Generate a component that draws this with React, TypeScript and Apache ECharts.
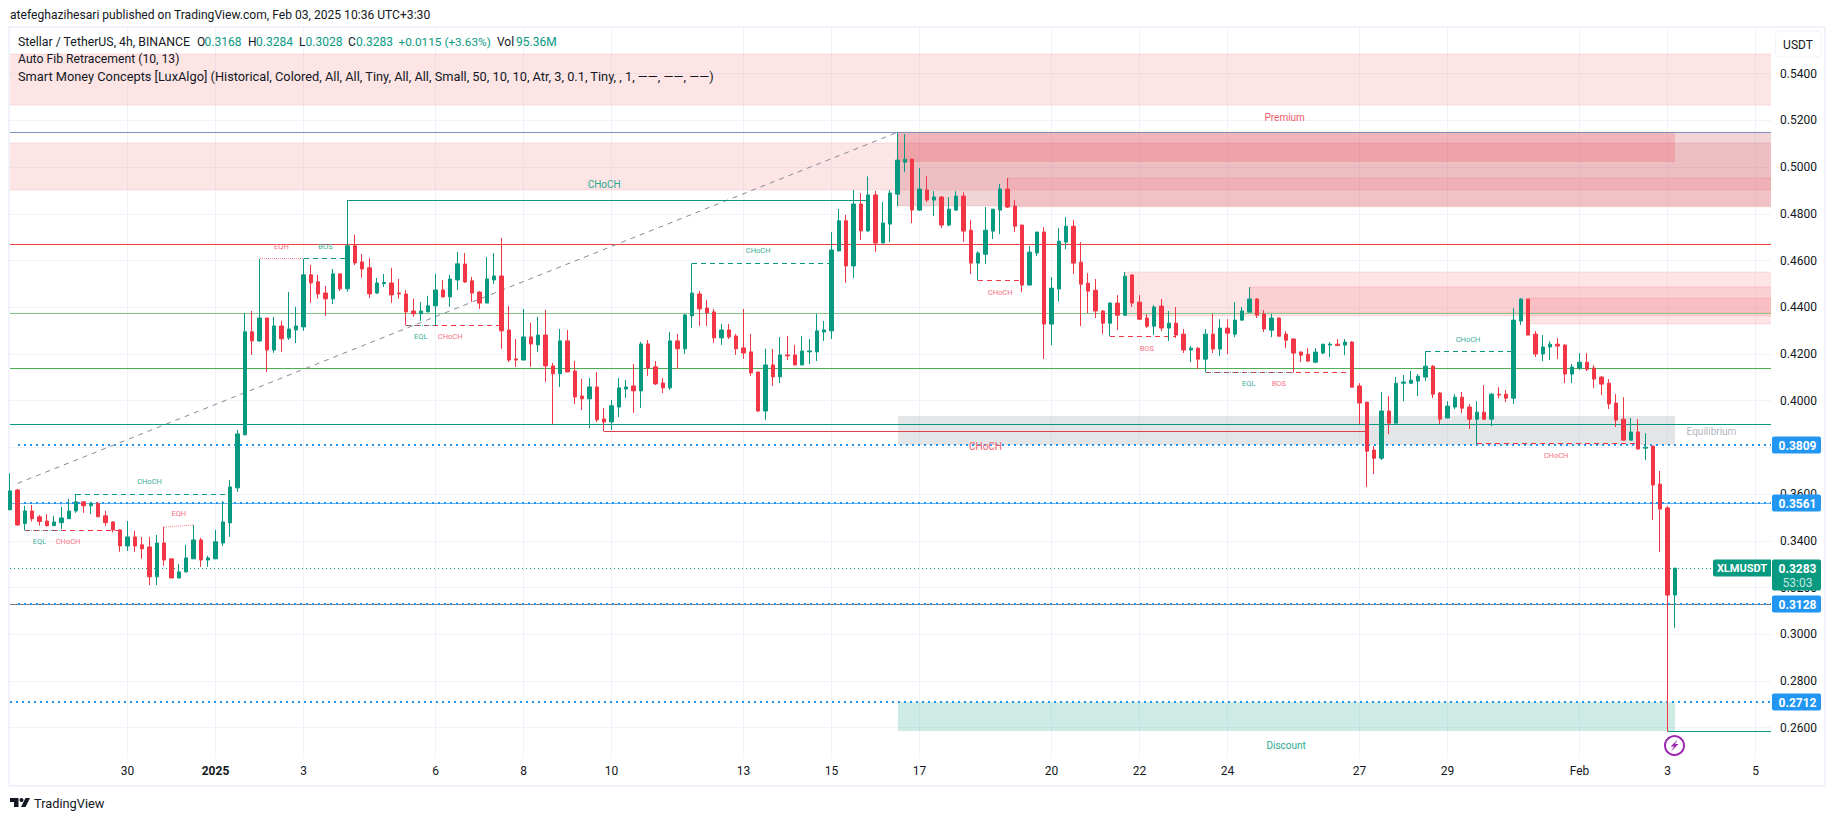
import React, { useEffect, useRef } from "react";
import * as echarts from "echarts";

// Candles: [open, high, low, close], one every 4 hours; the index counts candles from the left edge.
const candlesDecember = [
  [.3533,.3689,.3533,.3614],[.3618,.3622,.3465,.3468],[.3474,.3550,.3445,.3528],[.3528,.3554,.3483,.3495],
  [.3503,.3511,.3465,.3483],[.3485,.3515,.3461,.3465],[.3465,.3507,.3465,.3481],[.3478,.3545,.3450,.3498],
  [.3495,.3580,.3495,.3528],[.3528,.3601,.3520,.3567],[.3567,.3567,.3520,.3550],[.3550,.3567,.3515,.3560],
  [.3560,.3567,.3503,.3503],[.3507,.3528,.3465,.3478],[.3481,.3485,.3436,.3447],[.3447,.3447,.3353,.3378],
  [.3378,.3485,.3357,.3417],[.3417,.3443,.3353,.3378],[.3383,.3417,.3323,.3366],[.3374,.3417,.3211,.3246],
  [.3246,.3425,.3211,.3391],[.3391,.3460,.3293,.3318],[.3323,.3323,.3241,.3241],[.3241,.3301,.3241,.3267],
  [.3267,.3383,.3267,.3327],[.3323,.3468,.3323,.3404],[.3404,.3413,.3289,.3318],[.3318,.3336,.3289,.3327],
];
const candlesEarlyJanuary = [
  [.3323,.3447,.3323,.3396],[.3391,.3571,.3378,.3481],[.3477,.3661,.3417,.3631],[.3627,.3875,.3610,.3858],
  [.3854,.4376,.3854,.4295],[.4295,.4384,.4196,.4256],[.4256,.4607,.4252,.4354],[.4354,.4354,.4123,.4217],
  [.4217,.4359,.4205,.4320],[.4320,.4342,.4209,.4265],[.4269,.4466,.4260,.4307],[.4303,.4402,.4247,.4320],
  [.4316,.4607,.4299,.4539],[.4539,.4581,.4419,.4504],[.4509,.4539,.4436,.4457],[.4461,.4491,.4363,.4436],
  [.4436,.4564,.4414,.4543],[.4543,.4543,.4470,.4479],[.4479,.4859,.4466,.4663],[.4663,.4710,.4581,.4590],
  [.4594,.4628,.4526,.4564],[.4569,.4611,.4440,.4457],[.4461,.4526,.4457,.4504],[.4501,.4543,.4487,.4506],
  [.4504,.4569,.4419,.4453],[.4461,.4521,.4436,.4457],[.4457,.4474,.4323,.4380],[.4384,.4436,.4359,.4372],
  [.4372,.4423,.4342,.4384],[.4380,.4449,.4380,.4406],[.4406,.4543,.4323,.4474],[.4474,.4517,.4444,.4444],
  [.4444,.4539,.4402,.4521],[.4517,.4637,.4474,.4586],[.4585,.4632,.4504,.4508],[.4513,.4530,.4423,.4461],
  [.4465,.4470,.4393,.4418],[.4418,.4615,.4418,.4521],[.4517,.4632,.4500,.4534],[.4534,.4697,.4222,.4299],
];
const candlesMidJanuary = [
  [.4303,.4406,.4166,.4174],[.4179,.4264,.4145,.4174],[.4174,.4393,.4174,.4273],[.4273,.4333,.4145,.4243],
  [.4239,.4359,.4209,.4281],[.4281,.4389,.4080,.4149],[.4149,.4162,.3899,.4115],[.4115,.4307,.4059,.4256],
  [.4256,.4303,.4123,.4123],[.4127,.4170,.3986,.4016],[.4020,.4093,.3960,.4008],[.4008,.4097,.3883,.4059],
  [.4059,.4123,.3909,.3918],[.3922,.3969,.3869,.3909],[.3909,.4003,.3875,.3978],[.3973,.4097,.3930,.4055],
  [.4050,.4089,.4012,.4059],[.4063,.4157,.3948,.4042],[.4042,.4252,.3969,.4243],[.4243,.4260,.4106,.4140],
  [.4145,.4170,.4067,.4072],[.4076,.4097,.4033,.4055],[.4055,.4294,.4046,.4256],[.4256,.4286,.4136,.4222],
  [.4222,.4371,.4200,.4367],[.4363,.4588,.4311,.4461],[.4457,.4470,.4320,.4393],[.4397,.4431,.4320,.4376],
  [.4380,.4393,.4247,.4269],[.4269,.4329,.4239,.4303],[.4303,.4329,.4264,.4273],[.4277,.4286,.4196,.4222],
  [.4226,.4393,.4179,.4204],[.4209,.4286,.4106,.4119],[.4123,.4123,.3952,.3956],[.3956,.4222,.3918,.4153],
  [.4153,.4222,.4063,.4102],[.4102,.4273,.4076,.4196],[.4196,.4277,.4174,.4192],[.4196,.4239,.4153,.4153],
  [.4153,.4277,.4153,.4213],[.4209,.4264,.4157,.4213],[.4209,.4371,.4170,.4299],[.4294,.4341,.4256,.4303],
];
const candlesPeak = [
  [.4299,.4722,.4264,.4645],[.4641,.4821,.4641,.4770],[.4770,.4795,.4504,.4577],[.4577,.4902,.4525,.4842],
  [.4842,.4889,.4688,.4727],[.4727,.4960,.4722,.4881],[.4881,.4898,.4637,.4675],[.4675,.4851,.4675,.4761],
  [.4756,.4902,.4679,.4889],[.4884,.5148,.4833,.5030],[.5021,.5141,.4979,.5034],[.5034,.5034,.4760,.4816],
  [.4816,.4996,.4812,.4906],[.4902,.4961,.4850,.4859],[.4859,.4897,.4790,.4872],[.4872,.4876,.4739,.4752],
  [.4752,.4872,.4747,.4820],[.4816,.4897,.4812,.4876],[.4876,.4893,.4679,.4726],[.4730,.4773,.4542,.4589],
  [.4589,.4640,.4515,.4632],[.4627,.4829,.4585,.4730],[.4726,.4820,.4692,.4820],[.4816,.4927,.4713,.4906],
  [.4906,.4953,.4825,.4829],[.4833,.4859,.4722,.4747],[.4752,.4752,.4465,.4495],[.4495,.4662,.4495,.4636],
  [.4632,.4722,.4619,.4722],[.4722,.4743,.4178,.4328],[.4328,.4529,.4238,.4482],[.4478,.4739,.4426,.4683],
  [.4679,.4786,.4649,.4747],[.4747,.4773,.4542,.4589],[.4593,.4679,.4319,.4499],
];
const candlesLateJanuary = [
  [.4503,.4546,.4375,.4469],[.4473,.4521,.4354,.4384],[.4384,.4388,.4285,.4332],[.4332,.4422,.4276,.4418],
  [.4418,.4452,.4302,.4366],[.4366,.4551,.4362,.4533],[.4538,.4542,.4401,.4418],[.4422,.4452,.4345,.4349],
  [.4354,.4371,.4311,.4319],[.4319,.4409,.4281,.4401],[.4405,.4435,.4298,.4311],[.4311,.4384,.4255,.4332],
  [.4332,.4401,.4268,.4281],[.4285,.4307,.4204,.4217],[.4217,.4234,.4165,.4225],[.4225,.4229,.4135,.4178],
  [.4178,.4307,.4121,.4285],[.4285,.4371,.4204,.4221],[.4221,.4349,.4191,.4311],[.4311,.4349,.4199,.4289],
  [.4285,.4422,.4272,.4345],[.4345,.4401,.4341,.4384],[.4379,.4486,.4379,.4435],[.4435,.4439,.4354,.4366],
  [.4371,.4388,.4294,.4307],[.4302,.4371,.4272,.4354],[.4354,.4358,.4276,.4276],[.4285,.4298,.4225,.4259],
  [.4264,.4268,.4121,.4204],[.4208,.4212,.4165,.4195],[.4199,.4225,.4165,.4170],[.4165,.4225,.4161,.4208],
  [.4204,.4242,.4199,.4242],[.4238,.4251,.4187,.4242],[.4242,.4264,.4234,.4236],[.4238,.4264,.4195,.4251],
  [.4251,.4255,.4058,.4058],[.4063,.4075,.3900,.3990],[.3994,.3994,.3630,.3784],[.3789,.3806,.3686,.3754],
  [.3754,.4037,.3746,.3956],[.3956,.4020,.3857,.3904],[.3904,.4101,.3904,.4075],[.4075,.4110,.3998,.4080],
  [.4075,.4127,.4071,.4088],[.4084,.4114,.4020,.4105],[.4101,.4212,.4084,.4148],[.4148,.4152,.4011,.4028],
];
const candlesFebruary = [
  [.4033,.4037,.3900,.3921],[.3926,.3998,.3926,.3977],[.3973,.4028,.3964,.4015],[.4015,.4037,.3947,.3968],
  [.3973,.3986,.3879,.3921],[.3921,.3998,.3814,.3951],[.3951,.4067,.3917,.3921],[.3921,.4033,.3891,.4028],
  [.4028,.4058,.4011,.4024],[.4028,.4046,.3994,.4011],[.4011,.4396,.3986,.4345],[.4341,.4439,.4324,.4435],
  [.4435,.4435,.4281,.4281],[.4285,.4298,.4187,.4200],[.4200,.4281,.4170,.4230],[.4230,.4255,.4174,.4242],
  [.4242,.4268,.4178,.4234],[.4238,.4242,.4075,.4114],[.4114,.4157,.4075,.4144],[.4140,.4204,.4131,.4165],
  [.4165,.4204,.4127,.4135],[.4140,.4152,.4054,.4093],[.4101,.4105,.4024,.4071],[.4075,.4093,.3964,.3986],
  [.3990,.4028,.3887,.3917],[.3921,.4015,.3831,.3831],[.3831,.3926,.3831,.3866],[.3866,.3921,.3793,.3793],
  [.3797,.3861,.3746,.3801],[.3806,.3806,.3489,.3639],[.3643,.3699,.3352,.3536],[.3541,.3549,.2583,.3168],
  [.3168,.3284,.3028,.3283],
];
const candles = [
  ...candlesDecember, ...candlesEarlyJanuary, ...candlesMidJanuary,
  ...candlesPeak, ...candlesLateJanuary, ...candlesFebruary,
];

// Axis scale
const priceTicks = [.26,.28,.30,.32,.34,.36,.38,.40,.42,.44,.46,.48,.50,.52,.54];
const timeTickCandles = [16,28,40,58,70,82,100,112,124,142,154,166,184,196,214,226,238];
const timeTickLabels = ["30","2025","3","6","8","10","13","15","17","20","22","24","27","29","Feb","3","5"];

// Shaded zones: [from candle, to candle, top price, bottom price, tone]
const zoneEnd = 250;
const zones: [number, number, number, number, string][] = [
  [-5, zoneEnd, .5483, .5265, "soft"],
  [-5, zoneEnd, .5102, .4904, "soft"],
  [121, zoneEnd, .5149, .4835, "deep"],
  [121, 227, .5149, .5022, "red"],
  [136, zoneEnd, .4953, .4828, "soft"],
  [152, zoneEnd, .4550, .4364, "soft"],
  [169, zoneEnd, .4485, .4375, "soft"],
  [207, zoneEnd, .4440, .4327, "soft"],
  [121, 227, .3934, .3810, "grey"],
  [121, 227, .2712, .2587, "teal"],
];

// Lines: [from candle, to candle, start price, end price, style]
const levelLines: [number, number, number, number, string][] = [
  [-5, zoneEnd, .5149, .5149, "fibTop"],
  [-5, zoneEnd, .4670, .4670, "fibRed"],
  [-5, zoneEnd, .4374, .4374, "fibLime"],
  [-5, zoneEnd, .4139, .4139, "fibGreen"],
  [-5, zoneEnd, .3899, .3899, "fibTeal"],
  [-5, zoneEnd, .3561, .3561, "fibBlue"],
  [-5, zoneEnd, .3128, .3128, "fibGrey"],
  [1, zoneEnd, .3809, .3809, "dotBlue"],
  [1, zoneEnd, .3561, .3561, "dotBlue"],
  [1, zoneEnd, .3128, .3128, "dotBlue"],
  [-5, zoneEnd, .2712, .2712, "dotBlue"],
  [-5, zoneEnd, .3283, .3283, "lastPrice"],
  [1, 121, .3646, .5149, "trend"],
];
const structureLines: [number, number, number, number, string][] = [
  [46, 117, .4859, .4859, "tealSolid"],
  [81, 185, .3869, .3869, "redSolid"],
  [226, zoneEnd, .2583, .2583, "tealSolid"],
  [9, 30, .3599, .3599, "tealDash"],
  [2, 15, .3446, .3446, "redDash"],
  [2, 7, .3446, .3446, "tealDot"],
  [21, 25, .3459, .3468, "pinkDot"],
  [34, 40, .4607, .4607, "pinkDot"],
  [40, 46, .4607, .4607, "tealDash"],
  [54, 67, .4323, .4323, "redDash"],
  [54, 58, .4323, .4323, "tealDot"],
  [93, 112, .4588, .4588, "tealDash"],
  [132, 138, .4515, .4515, "redDash"],
  [150, 159, .4276, .4276, "redDash"],
  [163, 183, .4122, .4122, "redDash"],
  [163, 175, .4122, .4122, "tealDot"],
  [193, 205, .4212, .4212, "tealDash"],
  [200, 222, .3818, .3818, "redDash"],
];

// Chart labels: [candle, price, text, style]
const chartLabels: [number, number, string, string][] = [
  [81, .4926, "CHoCH", "tealBig"],
  [133, .3802, "CHoCH", "redBig"],
  [19, .3653, "CHoCH", "teal"],
  [4, .3396, "EQL", "teal"],
  [7.9, .3396, "CHoCH", "red"],
  [23, .3519, "EQH", "red"],
  [37, .4659, "EQH", "red"],
  [43, .4659, "BOS", "teal"],
  [56, .4274, "EQL", "teal"],
  [60, .4273, "CHoCH", "red"],
  [102, .4642, "CHoCH", "teal"],
  [135, .4464, "CHoCH", "red"],
  [155, .4224, "BOS", "red"],
  [168.9, .4074, "EQL", "teal"],
  [173, .4074, "BOS", "red"],
  [198.8, .4263, "CHoCH", "teal"],
  [210.8, .3765, "CHoCH", "red"],
  [173.8, .5214, "Premium", "premium"],
  [232, .3867, "Equilibrium", "equilibrium"],
  [174, .2526, "Discount", "discount"],
];

// Price tags on the right-hand scale
const blueTags = [.3809, .3561, .3128, .2712];
const lastPrice = .3283;
const symbol = "XLMUSDT";
const countdown = "53:03";

const headerText = "atefeghazihesari published on TradingView.com, Feb 03, 2025 10:36 UTC+3:30";
const legendTitle = "Stellar / TetherUS, 4h, BINANCE";
const legendQuote = [
  ["O", "0.3168"], ["H", "0.3284"], ["L", "0.3028"], ["C", "0.3283"],
];
const legendChange = "+0.0115 (+3.63%)";
const legendVolume = ["Vol", "95.36M"];
const fibLegend = "Auto Fib Retracement (10, 13)";
const smcLegend = "Smart Money Concepts [LuxAlgo] (Historical, Colored, All, All, Tiny, All, All, Small, 50, 10, 10, Atr, 3, 0.1, Tiny, , 1, ——, ——, ——)";

const UP = "#089981";
const DOWN = "#F23645";
const INK = "#131722";
const BLUE = "#2196F3";
const FONT = "Roboto, 'Noto Sans', sans-serif";

const zoneStyles: Record<string, any> = {
  soft: { fill: "rgba(247,124,128,0.2)", stroke: "rgba(242,54,69,0.12)" },
  deep: { fill: "rgba(178,40,51,0.2)", stroke: "rgba(178,40,51,0.12)" },
  red: { fill: "rgba(242,54,69,0.2)", stroke: "rgba(242,54,69,0.0)" },
  grey: { fill: "rgba(120,123,134,0.2)", stroke: "rgba(0,0,0,0)" },
  teal: { fill: "rgba(8,153,129,0.2)", stroke: "rgba(0,0,0,0)" },
};
const lineStyles: Record<string, any> = {
  fibTop: { stroke: "#8093C4", lineWidth: 1 },
  fibRed: { stroke: "#F23D3D", lineWidth: 1 },
  fibLime: { stroke: "#81C784", lineWidth: 1 },
  fibGreen: { stroke: "#4CAF50", lineWidth: 1 },
  fibTeal: { stroke: "#089981", lineWidth: 1 },
  fibBlue: { stroke: "#64B5F6", lineWidth: 1 },
  fibGrey: { stroke: "#787B86", lineWidth: 1 },
  dotBlue: { stroke: BLUE, lineWidth: 2, lineDash: [2, 4] },
  lastPrice: { stroke: UP, lineWidth: 1, lineDash: [1, 3] },
  trend: { stroke: "#868993", lineWidth: 1, lineDash: [5, 5] },
  tealSolid: { stroke: UP, lineWidth: 1 },
  redSolid: { stroke: "#E0404F", lineWidth: 1 },
  tealDash: { stroke: UP, lineWidth: 1, lineDash: [5, 4] },
  redDash: { stroke: DOWN, lineWidth: 1, lineDash: [5, 4] },
  tealDot: { stroke: "rgba(8,153,129,0.6)", lineWidth: 1, lineDash: [1, 1] },
  pinkDot: { stroke: "rgba(242,54,69,0.6)", lineWidth: 1, lineDash: [1, 1] },
};
const labelStyles: Record<string, any> = {
  tealBig: { fill: "#2BA98F", font: `10px ${FONT}` },
  redBig: { fill: "#EF5E6C", font: `10px ${FONT}` },
  teal: { fill: "#3BAE97", font: `7.5px ${FONT}` },
  red: { fill: "#F5737F", font: `7.5px ${FONT}` },
  premium: { fill: "#EF5E6C", font: `10px ${FONT}` },
  equilibrium: { fill: "#B2B5BE", font: `10px ${FONT}` },
  discount: { fill: "#2BA98F", font: `10px ${FONT}` },
};

// A line of odd width sits on a half pixel, one of even width on a whole pixel, so it stays sharp.
const crisp = (v: number, width: number) => (width % 2 === 0 ? Math.round(v) : Math.floor(v) + 0.5);

const zoneSeries = {
  type: "custom",
  z: 2,
  silent: true,
  clip: true,
  data: zones.map((z) => z.slice(0, 4)),
  renderItem: (params: any, api: any) => {
    const a = api.coord([api.value(0), api.value(2)]);
    const b = api.coord([api.value(1), api.value(3)]);
    const s = zoneStyles[zones[params.dataIndex][4]];
    return {
      type: "rect",
      shape: { x: Math.round(a[0]), y: Math.round(a[1]), width: Math.round(b[0]) - Math.round(a[0]), height: Math.round(b[1]) - Math.round(a[1]) },
      style: { fill: s.fill, stroke: s.stroke, lineWidth: 1 },
    };
  },
};

const lineSeries = (rows: [number, number, number, number, string][], z: number) => ({
  type: "custom",
  z,
  silent: true,
  clip: true,
  data: rows.map((r) => r.slice(0, 4)),
  renderItem: (params: any, api: any) => {
    const a = api.coord([api.value(0), api.value(2)]);
    const b = api.coord([api.value(1), api.value(3)]);
    const s = lineStyles[rows[params.dataIndex][4]];
    const flat = api.value(2) === api.value(3);
    return {
      type: "line",
      shape: {
        x1: flat ? Math.round(a[0]) : a[0],
        y1: flat ? crisp(a[1], s.lineWidth) : a[1],
        x2: b[0],
        y2: flat ? crisp(b[1], s.lineWidth) : b[1],
      },
      style: { stroke: s.stroke, lineWidth: s.lineWidth, lineDash: s.lineDash, fill: null },
    };
  },
});

const labelSeries = {
  type: "custom",
  z: 6,
  silent: true,
  clip: false,
  data: chartLabels.map((l) => l.slice(0, 2)),
  renderItem: (params: any, api: any) => {
    const p = api.coord([api.value(0), api.value(1)]);
    const row = chartLabels[params.dataIndex];
    const s = labelStyles[row[3]];
    return {
      type: "text",
      style: { text: row[2], x: p[0], y: p[1], fill: s.fill, font: s.font, align: "center", verticalAlign: "middle" },
    };
  },
};

const tagSeries = {
  type: "custom",
  z: 8,
  silent: true,
  clip: false,
  data: blueTags.map((v) => [240, v]),
  renderItem: (params: any, api: any) => {
    const p = api.coord([api.value(0), api.value(1)]);
    const y = Math.round(p[1]);
    return {
      type: "group",
      children: [
        { type: "rect", shape: { x: 1772, y: y - 8.5, width: 49, height: 17, r: 2 }, style: { fill: BLUE } },
        { type: "text", style: { text: api.value(1).toFixed(4), x: 1797.5, y: y + 0.5, fill: "#fff", font: `700 12px ${FONT}`, align: "center", verticalAlign: "middle" } },
      ],
    };
  },
};

const lastTagSeries = {
  type: "custom",
  z: 8,
  silent: true,
  clip: false,
  data: [[240, lastPrice]],
  renderItem: (_: any, api: any) => {
    const p = api.coord([api.value(0), api.value(1)]);
    const y = Math.round(p[1]);
    return {
      type: "group",
      children: [
        { type: "rect", shape: { x: 1713, y: y - 8.5, width: 58, height: 17, r: [2, 0, 0, 2] }, style: { fill: UP } },
        { type: "text", style: { text: symbol, x: 1742, y: y + 0.5, fill: "#fff", font: `700 11px ${FONT}`, align: "center", verticalAlign: "middle" } },
        { type: "rect", shape: { x: 1772, y: y - 8.5, width: 49, height: 31, r: 2 }, style: { fill: UP } },
        { type: "text", style: { text: api.value(1).toFixed(4), x: 1797.5, y: y + 0.5, fill: "#fff", font: `700 12px ${FONT}`, align: "center", verticalAlign: "middle" } },
        { type: "text", style: { text: countdown, x: 1797.5, y: y + 15, fill: "#C4E7E1", font: `12px ${FONT}`, align: "center", verticalAlign: "middle" } },
      ],
    };
  },
};

const txt = (text: string, x: number, y: number, fill: string, size = 12, extra: any = {}) => ({
  type: "text",
  x,
  y,
  z: 20,
  silent: true,
  style: { text, fill, font: `${size}px ${FONT}`, verticalAlign: "middle", ...extra },
});

const quoteLabelX = [197, 248, 299, 348];
const quoteValueX = [204.5, 256, 305.5, 356];

const graphics = [
  { type: "rect", z: 0, silent: true, shape: { x: 9, y: 27, width: 1816, height: 759 }, style: { fill: "none", stroke: "#F0F3FA", lineWidth: 2 } },
  txt(headerText, 10, 15, INK, 12.1),
  txt(legendTitle, 18, 41.5, INK, 12.3),
  ...legendQuote.flatMap((q, i) => [
    txt(q[0], quoteLabelX[i], 41.5, INK),
    txt(q[1], quoteValueX[i], 41.5, UP),
  ]),
  txt(legendChange, 398.5, 41.5, UP, 11.8),
  txt(legendVolume[0], 497, 41.5, INK),
  txt(legendVolume[1], 516, 41.5, UP),
  txt(fibLegend, 18, 59, INK, 12.2),
  txt(smcLegend, 18, 76, INK, 12.8),
  { type: "rect", z: 20, silent: true, shape: { x: 1775.5, y: 31, width: 45.5, height: 26, r: 4 }, style: { fill: "#fff", stroke: "#F0F3FA", lineWidth: 1 } },
  txt("USDT", 1798, 44.5, INK, 12, { align: "center" }),
  { type: "circle", z: 20, silent: true, shape: { cx: 1674.5, cy: 745.5, r: 9.5 }, style: { fill: "#fff", stroke: "#9C27B0", lineWidth: 2 } },
  { type: "polygon", z: 21, silent: true, shape: { points: [[1677.8, 739.5], [1670.5, 746.5], [1674, 746.5], [1671.2, 751.5], [1678.5, 744], [1675, 744]] }, style: { fill: "#9C27B0" } },
  { type: "polygon", z: 20, silent: true, shape: { points: [[10, 798], [18.5, 798], [18.5, 807], [14, 807], [14, 802], [10, 802]] }, style: { fill: INK } },
  { type: "circle", z: 20, silent: true, shape: { cx: 21.5, cy: 800, r: 2 }, style: { fill: INK } },
  { type: "polygon", z: 20, silent: true, shape: { points: [[25.5, 798], [30, 798], [25.5, 807], [21, 807]] }, style: { fill: INK } },
  txt("TradingView", 34, 803.5, INK, 12.8),
];

export default function App() {
  const ref = useRef<HTMLDivElement>(null);
  useEffect(() => {
    const chart = echarts.init(ref.current!, undefined, { renderer: "svg" });
    chart.setOption({
      animation: false,
      backgroundColor: "#fff",
      textStyle: { fontFamily: FONT },
      grid: { left: 10, top: 28, width: 1761, height: 730, containLabel: false },
      xAxis: {
        type: "value",
        min: -0.0232,
        max: 240.113,
        axisLine: { show: false },
        axisTick: { show: false, customValues: timeTickCandles },
        splitLine: { show: true, lineStyle: { color: "#F0F3FA", width: 1 } },
        axisLabel: {
          customValues: timeTickCandles,
          margin: 7,
          color: INK,
          fontSize: 12,
          fontFamily: FONT,
          formatter: (v: number) => {
            const t = timeTickLabels[timeTickCandles.indexOf(v)];
            return t === "2025" ? `{b|${t}}` : t;
          },
          rich: { b: { fontWeight: 700, fontSize: 12, color: INK, fontFamily: FONT } },
        },
      },
      yAxis: {
        type: "value",
        position: "right",
        min: 0.24705,
        max: 0.55955,
        axisLine: { show: false },
        axisTick: { show: false, customValues: priceTicks },
        splitLine: { show: true, lineStyle: { color: "#F0F3FA", width: 1 } },
        axisLabel: {
          customValues: priceTicks,
          margin: 9,
          color: INK,
          fontSize: 12,
          fontFamily: FONT,
          formatter: (v: number) => v.toFixed(4),
        },
      },
      series: [
        zoneSeries,
        lineSeries(levelLines, 3),
        lineSeries(structureLines, 4),
        {
          type: "candlestick",
          z: 5,
          silent: true,
          barWidth: 4,
          clip: true,
          encode: { x: 0, y: [1, 2, 3, 4] },
          itemStyle: { color: UP, color0: DOWN, borderColor: UP, borderColor0: DOWN, borderWidth: 1 },
          data: candles.map((c, i) => [i, c[0], c[3], c[2], c[1]]),
        },
        labelSeries,
        tagSeries,
        lastTagSeries,
      ],
      graphic: graphics,
    });
    return () => chart.dispose();
  }, []);
  return <div ref={ref} style={{ position: "absolute", left: 0, top: 0, width: 1835, height: 821 }} />;
}
